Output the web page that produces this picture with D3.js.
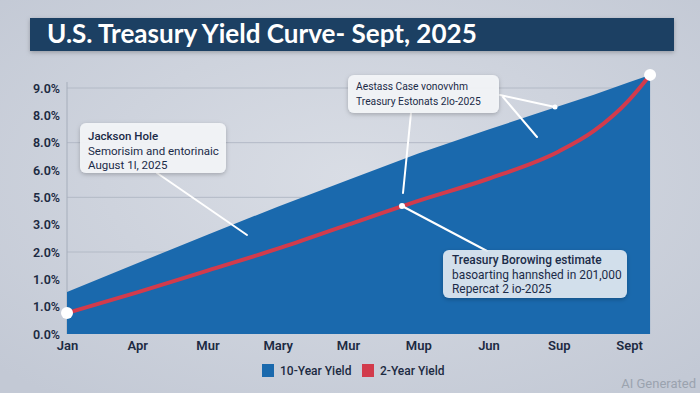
<!DOCTYPE html>
<html>
<head>
<meta charset="utf-8">
<script src="https://cdn.jsdelivr.net/npm/d3@7"></script>
<style>
  html, body { margin: 0; padding: 0; background: #cdd2dc; }
  svg { display: block; }
  text { font-family: Roboto, "Noto Sans", sans-serif; }
</style>
</head>
<body>
<svg id="chart" width="700" height="393"></svg>
<script>
// ---- data ----
const title = "U.S. Treasury Yield Curve- Sept, 2025";
const categories = ["Jan", "Apr", "Mur", "Mary", "Mur", "Mup", "Jun", "Sup", "Sept"];
const yTickLabels = ["0.0%", "1.0%", "1.0%", "2.0%", "3.0%", "5.0%", "6.0%", "8.0%", "8.0%", "9.0%"];
const periods = [0, 1, 2, 3, 4, 5, 6, 7, 7.5, 8, 8.3];
const tenYear = [1.54, 2.59, 3.63, 4.66, 5.63, 6.60, 7.48, 8.33, 8.75, 9.21, 9.48];
const twoYear = [0.77, 1.52, 2.32, 3.12, 4.00, 4.87, 5.68, 6.68, 7.43, 8.56, 9.48];
const seriesNames = ["10-Year Yield", "2-Year Yield"];
const note1 = ["Jackson Hole", "Semorisim and entorinaic", "August 1l, 2025"];
const note2 = ["Aestass Case vonovvhm", "Treasury Estonats 2lo-2025"];
const note3 = ["Treasury Borowing estimate", "basoarting hannshed in 201,000", "Repercat 2 io-2025"];
const gridTicks = [3, 5, 7, 9];

// ---- setup ----
const svg = d3.select("#chart");
const W = 700, H = 393;
const defs = svg.append("defs");
const bg = defs.append("radialGradient").attr("id", "bg").attr("cx", "50%").attr("cy", "45%").attr("r", "70%");
bg.append("stop").attr("offset", "0%").attr("stop-color", "#d9dde5");
bg.append("stop").attr("offset", "100%").attr("stop-color", "#c3c9d5");
const sh = defs.append("filter").attr("id", "sh").attr("x", "-10%").attr("y", "-20%").attr("width", "130%").attr("height", "160%");
sh.append("feDropShadow").attr("dx", 0).attr("dy", 1.5).attr("stdDeviation", 2).attr("flood-color", "#000").attr("flood-opacity", 0.25);

svg.append("rect").attr("width", W).attr("height", H).attr("fill", "url(#bg)");

const x = d3.scaleLinear().domain([0, 8]).range([67, 629]);
const y = d3.scaleLinear().domain([0, 9]).range([334, 88]);

// gridlines
svg.append("g").selectAll("line").data(gridTicks).join("line")
  .attr("x1", x(0)).attr("x2", x(8.3))
  .attr("y1", d => y(d)).attr("y2", d => y(d))
  .attr("stroke", "#b3bac6").attr("stroke-width", 1);

// axis line
svg.append("line").attr("x1", x(0)).attr("x2", x(0)).attr("y1", 82).attr("y2", y(0))
  .attr("stroke", "#a6aebb").attr("stroke-width", 1);

// area (10-year)
const pts = periods.map((p, i) => ({ p, ten: tenYear[i], two: twoYear[i] }));
svg.append("path").datum(pts)
  .attr("d", d3.area().x(d => x(d.p)).y0(y(0)).y1(d => y(d.ten)))
  .attr("fill", "#1a69ad");

// line (2-year)
svg.append("path").datum(pts)
  .attr("d", d3.line().x(d => x(d.p)).y(d => y(d.two)).curve(d3.curveMonotoneX))
  .attr("fill", "none").attr("stroke", "#d23b4c").attr("stroke-width", 4).attr("stroke-linecap", "round");

// axes
const yAxis = d3.axisLeft(y).tickValues(d3.range(10)).tickFormat(i => yTickLabels[i]).tickSize(0).tickPadding(7);
const gy = svg.append("g").attr("transform", `translate(${x(0)},0)`).call(yAxis);
gy.select(".domain").remove();
gy.selectAll("text").attr("font-size", 12.5).attr("font-weight", 600).attr("fill", "#1c2a42")
  .style("font-family", "Roboto, sans-serif");

const xAxis = d3.axisBottom(x).tickValues(d3.range(9)).tickFormat(i => categories[i]).tickSize(0).tickPadding(7);
const gx = svg.append("g").attr("transform", `translate(0,${y(0)})`).call(xAxis);
gx.select(".domain").remove();
gx.selectAll("text").attr("font-size", 13).attr("font-weight", 600).attr("fill", "#1c2a42")
  .style("font-family", "Roboto, sans-serif");

// annotation connector lines
const conn = svg.append("g").attr("stroke", "#ffffff").attr("stroke-width", 2).attr("stroke-linecap", "round");
const connectors = [
  [157, 173, 247, 235],
  [411, 113, 403, 193],
  [402, 206, 487, 251],
  [500, 95, 555, 107],
  [503, 97, 537, 137]
];
conn.selectAll("line").data(connectors).join("line")
  .attr("x1", d => d[0]).attr("y1", d => d[1]).attr("x2", d => d[2]).attr("y2", d => d[3]);

// markers
svg.append("circle").attr("cx", x(periods[0])).attr("cy", y(twoYear[0])).attr("r", 6).attr("fill", "#ffffff");
svg.append("circle").attr("cx", x(periods[periods.length - 1])).attr("cy", y(twoYear[twoYear.length - 1])).attr("r", 6).attr("fill", "#ffffff");
svg.append("circle").attr("cx", 402).attr("cy", 206).attr("r", 3).attr("fill", "#ffffff");
svg.append("circle").attr("cx", 555).attr("cy", 107).attr("r", 2.5).attr("fill", "#ffffff");

// annotation boxes
function note(lines, bx, by, bw, bh, tx, ty, lh, fill, op, fitW) {
  const g = svg.append("g");
  g.append("rect").attr("x", bx).attr("y", by).attr("width", bw).attr("height", bh).attr("rx", 6)
    .attr("fill", fill).attr("fill-opacity", op).attr("filter", "url(#sh)");
  const ts = lines.map((t, i) => g.append("text").attr("x", tx).attr("y", ty + i * lh).text(t)
      .attr("font-size", 13).attr("font-weight", i === 0 && lines.length === 3 ? 500 : 400)
      .attr("fill", "#1b2b48"));
  const maxW = d3.max(ts, t => t.node().getComputedTextLength());
  const fs = Math.min(13.5, 13 * fitW / maxW);
  ts.forEach(t => t.attr("font-size", fs));
}
note(note1, 80, 123, 146, 50, 88, 140, 14.5, "#f4f6f9", 0.92, 131);
note(note2, 348, 75, 151, 38, 356, 90, 15, "#f4f6f9", 0.92, 125);
note(note3, 443, 250, 184, 48, 452, 264, 14.5, "#dfe7f1", 0.93, 170);

// title bar
svg.append("rect").attr("x", 30).attr("y", 18).attr("width", 644).attr("height", 33)
  .attr("fill", "#1f4164").attr("filter", "url(#sh)");
const tt = svg.append("text").attr("x", 47).attr("y", 43).text(title)
  .attr("font-size", 22).attr("font-weight", 700).attr("fill", "#ffffff")
  .style("font-family", "Lato, Roboto, sans-serif");
const tw = tt.node().getComputedTextLength();
tt.attr("font-size", 22 * 430 / tw);

// legend
const legend = svg.append("g");
const lx = [262, 362];
const colors = ["#1a69ad", "#d23b4c"];
seriesNames.forEach((n, i) => {
  legend.append("rect").attr("x", lx[i]).attr("y", 364).attr("width", 12).attr("height", 13).attr("fill", colors[i]);
  legend.append("text").attr("x", lx[i] + 18).attr("y", 375).text(n)
    .attr("font-size", 12).attr("font-weight", 500).attr("fill", "#1c2a42");
});

// watermark
svg.append("text").attr("x", 696).attr("y", 388).attr("text-anchor", "end").text("AI Generated")
  .attr("font-size", 13).attr("fill", "#9ba3af");
</script>
</body>
</html>
